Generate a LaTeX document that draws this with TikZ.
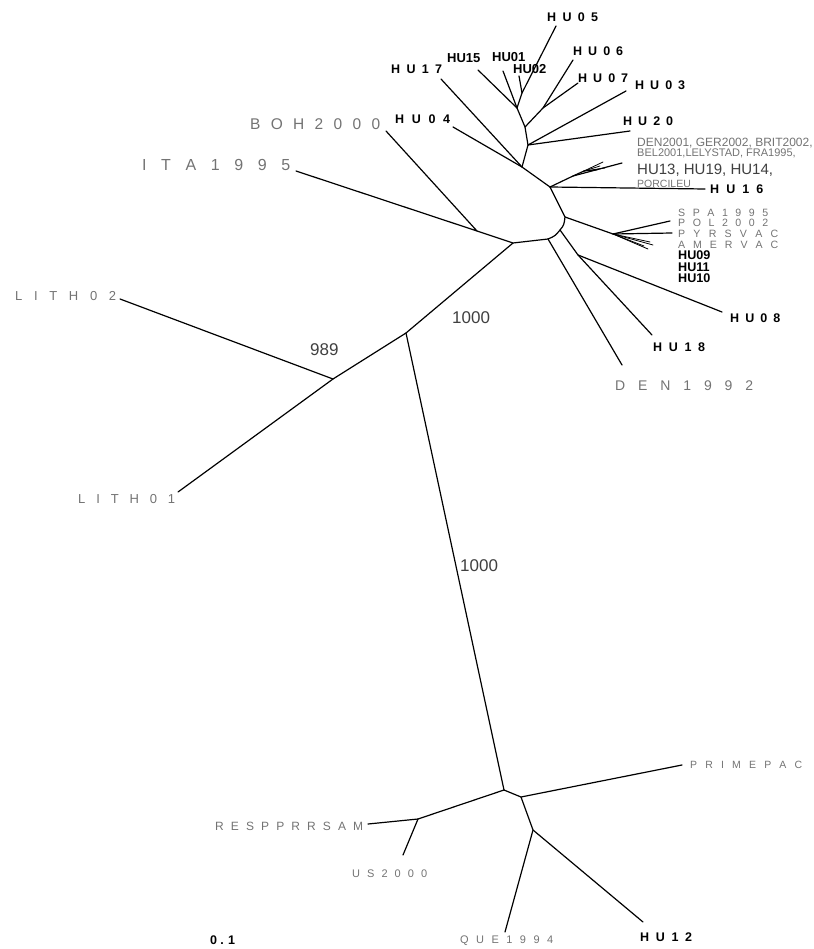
\documentclass[tikz,border=0pt]{standalone}
\usepackage{fontspec}
\setmainfont{Liberation Sans}
\newcommand\wbox[2]{\makebox[#1][s]{#2}}
\newcommand\fsz[1]{\fontsize{#1}{#1}\selectfont}
\definecolor{lightlbl}{gray}{0.45}
\definecolor{numlbl}{gray}{0.25}
\tikzset{
  br/.style={line width=1.2pt, line join=round, line cap=round},
  fine/.style={line width=0.8pt, line join=round, line cap=round},
  glbl/.style={anchor=west, inner sep=0pt, text=lightlbl},
  blbl/.style={anchor=west, inner sep=0pt, font=\bfseries},
  nlbl/.style={anchor=west, inner sep=0pt, text=numlbl},
  tight/.style={text height=#1, text depth=0pt},
}
\begin{document}
\begin{tikzpicture}[x=1pt,y=-1pt]
\useasboundingbox (0,0) rectangle (813,949);
% ---------- coordinates ----------
\coordinate (N1) at (406,333);
\coordinate (L) at (333,379);
\coordinate (lith2e) at (120,299);
\coordinate (lith1e) at (178,492);
\coordinate (B1) at (504,790);
\coordinate (B0) at (418,819);
\coordinate (respe) at (368,824);
\coordinate (us2e) at (403,855);
\coordinate (B2) at (521,797);
\coordinate (primee) at (682,765);
\coordinate (B3) at (533,830);
\coordinate (quee) at (505,932);
\coordinate (hu12e) at (643,922);
\coordinate (H0) at (477,231);
\coordinate (H1) at (513,243);
\coordinate (H2) at (548,239);
\coordinate (H3) at (560,230);
\coordinate (H4) at (565,217);
\coordinate (T0) at (550,187);
\coordinate (bohe) at (386,131);
\coordinate (itae) at (296,171);
\coordinate (den92e) at (622,365);
\coordinate (J) at (578,255);
\coordinate (hu18e) at (652,335);
\coordinate (hu08e) at (722,312);
\coordinate (S) at (613,234);
\coordinate (spae) at (670,221);
\coordinate (pyre) at (672,233);
\coordinate (s1) at (653,245);
\coordinate (s2) at (648,249);
\coordinate (s3) at (644,246);
\coordinate (s4) at (650,242);
\coordinate (hu16e) at (705,189);
\coordinate (TB) at (573,176);
\coordinate (TB2) at (584,171);
\coordinate (t1) at (622,163);
\coordinate (t2) at (603,162);
\coordinate (t3) at (600,166);
\coordinate (t4) at (597,170);
\coordinate (t5) at (605,168);
\coordinate (T1) at (522,167);
\coordinate (hu04e) at (453,127);
\coordinate (hu17e) at (441,79);
\coordinate (T2) at (528,145);
\coordinate (hu03e) at (626,91);
\coordinate (hu20e) at (630,131);
\coordinate (T3) at (525,127);
\coordinate (V) at (543,108);
\coordinate (hu06e) at (573,60);
\coordinate (hu07e) at (578,83);
\coordinate (U1) at (517,108);
\coordinate (hu15e) at (478,70);
\coordinate (hu01e) at (503,71);
\coordinate (U2) at (522,93);
\coordinate (hu02e) at (519,76);
\coordinate (hu05e) at (556,26);
% ---------- branches ----------
\draw[br] (H1) -- (N1) -- (L);
\draw[br] (L) -- (lith2e);
\draw[br] (L) -- (lith1e);
\draw[br] (N1) -- (B1);
\draw[br] (B1) -- (B0) -- (respe);
\draw[br] (B0) -- (us2e);
\draw[br] (B1) -- (B2) -- (primee);
\draw[br] (B2) -- (B3) -- (quee);
\draw[br] (B3) -- (hu12e);
\draw[br] (bohe) -- (H0) -- (itae);
\draw[br] (H0) -- (H1) -- (H2) .. controls (555,236) .. (H3) .. controls (564,225) .. (H4) -- (T0);
\draw[br] (H2) -- (den92e);
\draw[br] (H3) -- (J) -- (hu18e);
\draw[br] (J) -- (hu08e);
\draw[br] (H4) -- (S) -- (spae);
\draw[br] (S) -- (pyre);
\draw[fine] (S) -- (s1);
\draw[fine] (S) -- (s2);
\draw[fine] (S) -- (s3);
\draw[fine] (S) -- (s4);
\draw[br] (T0) -- (hu16e);
\draw[br] (T0) -- (TB) -- (t1);
\draw[br] (TB) -- (TB2);
\draw[fine] (TB2) -- (t2);
\draw[fine] (TB2) -- (t3);
\draw[fine] (TB2) -- (t4);
\draw[fine] (TB2) -- (t5);
\draw[br] (T0) -- (T1) -- (hu04e);
\draw[br] (T1) -- (hu17e);
\draw[br] (T1) -- (T2) -- (hu03e);
\draw[br] (T2) -- (hu20e);
\draw[br] (T2) -- (T3) -- (V) -- (hu06e);
\draw[br] (V) -- (hu07e);
\draw[br] (T3) -- (U1) -- (hu15e);
\draw[br] (U1) -- (hu01e);
\draw[br] (U1) -- (U2) -- (hu02e);
\draw[br] (U2) -- (hu05e);
% ---------- light labels ----------
\node[glbl] (lith02) at (15,296) {\fsz{13}\wbox{101pt}{L I T H 0 2}};
\node[glbl] (lith01) at (78,499.5) {\fsz{13}\wbox{97pt}{L I T H 0 1}};
\node[glbl] (boh) at (250,124) {\fsz{15.5}\wbox{130pt}{B O H 2 0 0 0}};
\node[glbl] (ita) at (142,165) {\fsz{16}\wbox{148pt}{I T A 1 9 9 5}};
\node[glbl] (den92) at (615,385.5) {\fsz{14}\wbox{138pt}{D E N 1 9 9 2}};
\node[glbl] (prime) at (690,764.5) {\fsz{10.5}\wbox{112pt}{P R I M E P A C}};
\node[glbl] (resp) at (215,826.5) {\fsz{12}\wbox{148pt}{R E S P P R R S A M}};
\node[glbl] (us2000) at (352,874) {\fsz{11}\wbox{75pt}{U S 2 0 0 0}};
\node[glbl] (que) at (460,941) {\fsz{11}\wbox{93pt}{Q U E 1 9 9 4}};
\node[glbl,tight=7.6pt] (spa) at (678,212.5) {\fsz{10.6}\wbox{90pt}{S P A 1 9 9 5}};
\node[glbl,tight=7.6pt] (pol) at (678,223) {\fsz{10.6}\wbox{90pt}{P O L 2 0 0 2}};
\node[glbl,tight=7.6pt] (pyr) at (678,234) {\fsz{10.6}\wbox{100pt}{P Y R S V A C}};
\node[glbl,tight=7.6pt] (amer) at (678,245) {\fsz{10.6}\wbox{100pt}{A M E R V A C}};
\node[glbl,tight=8.6pt] (grp1) at (637,142) {\fsz{12}DEN2001, GER2002, BRIT2002,};
\node[glbl,tight=7.9pt] (grp2) at (637,153) {\fsz{11}BEL2001,LELYSTAD, FRA1995,};
\node[glbl,text=numlbl,tight=10.7pt] (grp3) at (637,169.5) {\fsz{15}HU13, HU19, HU14,};
\node[glbl,tight=7.5pt] (grp4) at (637,183.5) {\fsz{10.5}PORCILEU};
% ---------- bold labels ----------
\node[blbl] (hu05) at (547,17.5) {\fsz{12.5}\wbox{51pt}{H U 0 5}};
\node[blbl] (hu06) at (573,51.5) {\fsz{12.5}\wbox{50pt}{H U 0 6}};
\node[blbl] (hu17) at (391,69.5) {\fsz{12.5}\wbox{51pt}{H U 1 7}};
\node[blbl] (hu04) at (395,119.5) {\fsz{12.5}\wbox{55pt}{H U 0 4}};
\node[blbl] (hu07) at (578,78) {\fsz{12.5}\wbox{50pt}{H U 0 7}};
\node[blbl] (hu03) at (635,85) {\fsz{12.5}\wbox{50pt}{H U 0 3}};
\node[blbl] (hu20) at (623,121.5) {\fsz{12.5}\wbox{50pt}{H U 2 0}};
\node[blbl] (hu16) at (710,189) {\fsz{12.5}\wbox{53pt}{H U 1 6}};
\node[blbl] (hu08) at (730,318) {\fsz{12.5}\wbox{50pt}{H U 0 8}};
\node[blbl] (hu18) at (653,347.5) {\fsz{12.5}\wbox{52pt}{H U 1 8}};
\node[blbl] (hu12) at (640,937.5) {\fsz{12.5}\wbox{52pt}{H U 1 2}};
\node[blbl] (scale) at (210,940.5) {\fsz{12.5}\wbox{25pt}{0 . 1}};
\node[blbl,tight=9.3pt] (hu15) at (447,57.5) {\fsz{13}HU15};
\node[blbl,tight=9.3pt] (hu01) at (492,56.5) {\fsz{13}HU01};
\node[blbl,tight=9.3pt] (hu02) at (513,68.5) {\fsz{13}HU02};
\node[blbl,tight=9pt] (hu09) at (678,255.5) {\fsz{12.6}HU09};
\node[blbl,tight=9pt] (hu11) at (678,267) {\fsz{12.6}HU11};
\node[blbl,tight=9pt] (hu10) at (678,278.5) {\fsz{12.6}HU10};
% ---------- bootstrap values ----------
\node[nlbl] (b989) at (310,350) {\fsz{17}989};
\node[nlbl] (b1000a) at (452,318) {\fsz{17}1000};
\node[nlbl] (b1000b) at (460,566) {\fsz{17}1000};
\end{tikzpicture}
\end{document}
